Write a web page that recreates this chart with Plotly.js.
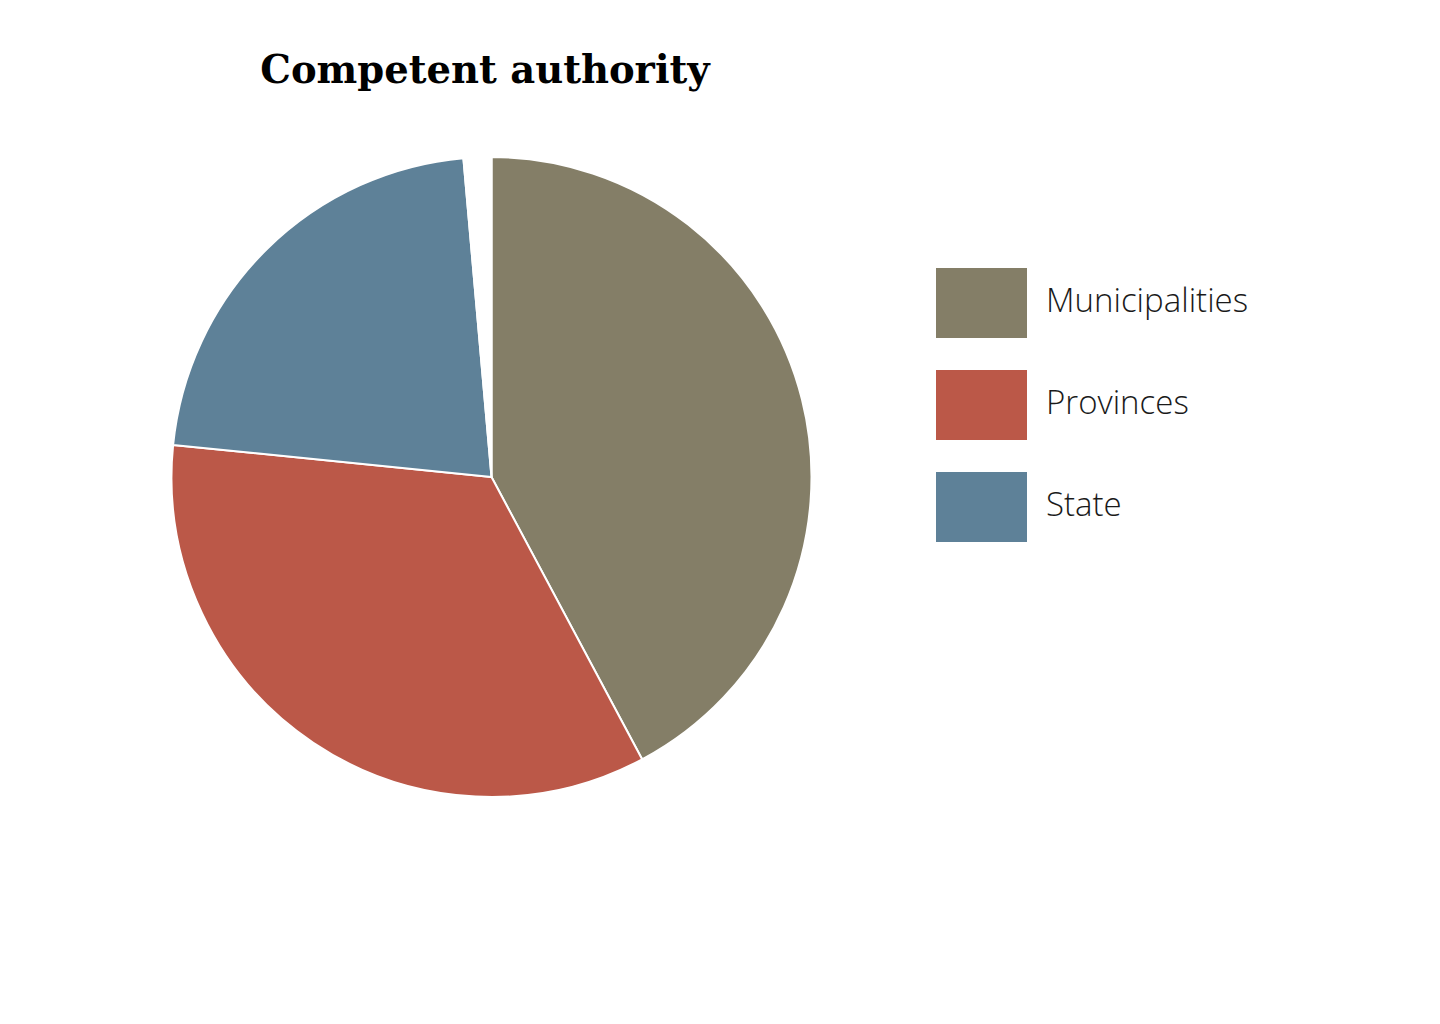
<!DOCTYPE html>
<html>
<head>
<meta charset="utf-8">
<script src="https://cdn.plot.ly/plotly-3.0.1.min.js"></script>
<style>
html,body{margin:0;padding:0;background:#fff;}
#chart{width:1440px;height:1024px;}
</style>
</head>
<body>
<div id="chart"></div>
<script>
// Data
const categories = ["Municipalities", "Provinces", "State", ""];
const values = [42.2, 34.4, 22.0, 1.4];
const colors = ["#847E67", "#BB5848", "#5E8198", "#FFFFFF"];
const legendCategories = ["Municipalities", "Provinces", "State"];
const legendColors = ["#847E67", "#BB5848", "#5E8198"];
const chartTitle = "Competent authority";

const W = 1440, H = 1024;
const cx = 491.5, cy = 477, r = 320;

const trace = {
  type: "pie",
  labels: categories,
  values: values,
  sort: false,
  direction: "clockwise",
  rotation: 0,
  textinfo: "none",
  hoverinfo: "label+percent",
  marker: { colors: colors, line: { color: "#FFFFFF", width: 2 } },
  domain: {
    x: [(cx - r) / W, (cx + r) / W],
    y: [1 - (cy + r) / H, 1 - (cy - r) / H]
  },
  showlegend: false
};

const shapes = [];
const annotations = [];
const sw = { x0: 936, x1: 1027, h: 70 };
const tops = [268, 370, 472];
legendCategories.forEach((c, i) => {
  const t = tops[i];
  shapes.push({
    type: "rect", xref: "paper", yref: "paper",
    x0: sw.x0 / W, x1: sw.x1 / W,
    y0: 1 - (t + sw.h) / H, y1: 1 - t / H,
    fillcolor: legendColors[i], line: { width: 0 }
  });
  annotations.push({
    xref: "paper", yref: "paper",
    x: 1044 / W, y: 1 - (t + sw.h / 2 - 4) / H,
    xanchor: "left", yanchor: "middle",
    text: c, showarrow: false,
    font: { family: "Open Sans, sans-serif", size: 33, color: "#1A1A1A", weight: 300 }
  });
});

const layout = {
  width: W, height: H,
  margin: { l: 0, r: 0, t: 0, b: 0 },
  paper_bgcolor: "#FFFFFF",
  plot_bgcolor: "#FFFFFF",
  title: {
    text: "<b>" + chartTitle + "</b>",
    x: 485 / W, xanchor: "center", xref: "paper",
    y: 1 - 70 / H, yanchor: "middle", yref: "paper",
    font: { family: "DejaVu Serif, serif", size: 38.5, color: "#000000" }
  },
  shapes: shapes,
  annotations: annotations
};

Plotly.newPlot("chart", [trace], layout, { displayModeBar: false });
</script>
</body>
</html>
